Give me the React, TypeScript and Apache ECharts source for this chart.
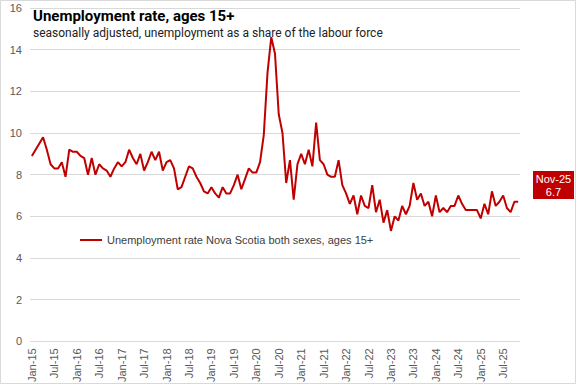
import React, { useEffect, useRef } from "react";
import * as echarts from "echarts";

const years = [15, 16, 17, 18, 19, 20, 21, 22, 23, 24, 25];
const monthNames = ["Jan", "Feb", "Mar", "Apr", "May", "Jun", "Jul", "Aug", "Sep", "Oct", "Nov", "Dec"];

const rateValues = [
  8.9, 9.2, 9.5, 9.8, 9.2, 8.5, 8.3, 8.3, 8.6, 7.9, 9.2, 9.1,
  9.1, 8.9, 8.8, 8.0, 8.8, 8.0, 8.5, 8.3, 8.2, 7.9, 8.3, 8.6,
  8.4, 8.6, 9.2, 8.8, 8.5, 9.0, 8.2, 8.6, 9.1, 8.7, 9.1, 8.2,
  8.6, 8.7, 8.3, 7.3, 7.4, 7.9, 8.4, 8.3, 7.9, 7.6, 7.2, 7.1,
  7.4, 7.1, 6.9, 7.4, 7.1, 7.1, 7.5, 8.0, 7.3, 7.8, 8.3, 8.1,
  8.1, 8.6, 9.9, 12.9, 14.6, 13.8, 10.9, 10.0, 7.6, 8.7, 6.8, 8.5,
  9.0, 8.5, 9.2, 8.4, 10.5, 8.7, 8.5, 8.0, 7.9, 7.9, 8.7, 7.5,
  7.1, 6.6, 7.0, 6.1, 7.0, 6.5, 6.4, 7.5, 6.2, 6.8, 5.7, 6.3,
  5.3, 6.0, 5.8, 6.5, 6.1, 6.5, 7.6, 6.8, 7.1, 6.5, 6.7, 6.0,
  7.0, 6.2, 6.4, 6.2, 6.5, 6.5, 7.0, 6.6, 6.3, 6.3, 6.3, 6.3,
  5.9, 6.6, 6.1, 7.2, 6.5, 6.7, 7.0, 6.4, 6.2, 6.7, 6.7,
];

const categories: string[] = [];
for (const y of years) {
  for (const m of monthNames) {
    if (categories.length < rateValues.length) categories.push(`${m}-${y}`);
  }
}

const yTicks = [0, 2, 4, 6, 8, 10, 12, 14, 16];
const seriesName = "Unemployment rate Nova Scotia both sexes, ages 15+";
const titleText = "Unemployment rate, ages 15+";
const subtitleText = "seasonally adjusted, unemployment as a share of the labour force";
const lastLabel = categories[categories.length - 1];
const lastValue = rateValues[rateValues.length - 1];

export default function App() {
  const ref = useRef<HTMLDivElement>(null);
  useEffect(() => {
    if (!ref.current) return;
    const chart = echarts.init(ref.current, undefined, { renderer: "svg" });
    const red = "#C00000";
    chart.setOption({
      animation: false,
      backgroundColor: "#ffffff",
      grid: { left: 30, right: 57, top: 8, bottom: 42, containLabel: false },
      xAxis: {
        type: "category",
        data: categories,
        boundaryGap: true,
        axisLine: { show: false },
        axisTick: { show: false },
        axisLabel: {
          interval: 5,
          rotate: 90,
          margin: 7,
          color: "#595959",
          fontSize: 11,
          fontFamily: "Liberation Sans, Arial, sans-serif",
        },
        splitLine: { show: false },
      },
      yAxis: {
        type: "value",
        min: yTicks[0],
        max: yTicks[yTicks.length - 1],
        interval: 2,
        axisLine: { show: false },
        axisTick: { show: false },
        axisLabel: {
          margin: 8,
          color: "#595959",
          fontSize: 11,
          fontFamily: "Liberation Sans, Arial, sans-serif",
        },
        splitLine: { lineStyle: { color: "#D9D9D9", width: 1 } },
      },
      series: [
        {
          name: seriesName,
          type: "line",
          data: rateValues,
          symbol: "none",
          lineStyle: { color: red, width: 2 },
          itemStyle: { color: red },
        },
      ],
      graphic: [
        {
          type: "rect",
          shape: { x: 0.5, y: 0.5, width: 575, height: 383 },
          style: { fill: "none", stroke: "#D9D9D9", lineWidth: 1 },
          silent: true,
        },
        {
          type: "text",
          left: 33,
          top: 8,
          style: {
            text: titleText,
            fontSize: 15,
            lineHeight: 16,
            fontWeight: "bold",
            fill: "#000000",
            fontFamily: "Roboto, sans-serif",
          },
        },
        {
          type: "text",
          left: 33,
          top: 26,
          style: {
            text: subtitleText,
            fontSize: 12,
            lineHeight: 13,
            fill: "#222222",
            fontFamily: "Roboto, sans-serif",
          },
        },
        {
          type: "line",
          shape: { x1: 80, y1: 240, x2: 102, y2: 240 },
          style: { stroke: red, lineWidth: 2 },
        },
        {
          type: "text",
          left: 107,
          top: 234,
          style: {
            text: seriesName,
            fontSize: 11,
            fill: "#404040",
            fontFamily: "Liberation Sans, Arial, sans-serif",
          },
        },
        {
          type: "group",
          left: 533,
          top: 171,
          children: [
            {
              type: "rect",
              shape: { x: 0, y: 0, width: 41, height: 28 },
              style: { fill: red },
            },
            {
              type: "text",
              x: 20.5,
              y: 2,
              style: {
                text: lastLabel,
                fontSize: 11,
                fill: "#ffffff",
                align: "center",
                fontFamily: "Liberation Sans, Arial, sans-serif",
              },
            },
            {
              type: "text",
              x: 20.5,
              y: 15,
              style: {
                text: lastValue.toFixed(1),
                fontSize: 11,
                fill: "#ffffff",
                align: "center",
                fontFamily: "Liberation Sans, Arial, sans-serif",
              },
            },
          ],
        },
      ],
    });
    return () => chart.dispose();
  }, []);
  return (
    <div
      ref={ref}
      style={{ position: "fixed", left: 0, top: 0, width: 577, height: 385 }}
    />
  );
}
